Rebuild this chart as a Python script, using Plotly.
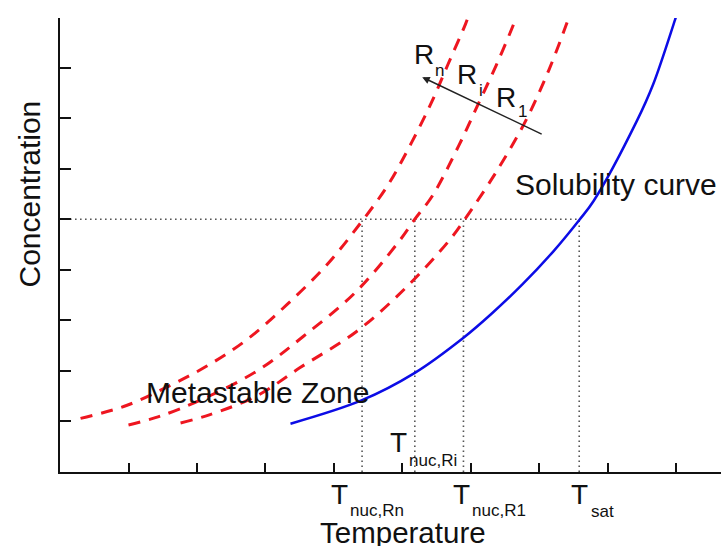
import plotly.graph_objects as go

# ---- data ----
sol_x = [3.365, 4.41, 5.18, 5.886, 6.30, 6.75, 7.20, 7.584, 7.79, 8.42, 8.66, 8.98, 9.04]
sol_y = [0.955, 1.42, 1.96, 2.65, 3.13, 3.71, 4.36, 4.99, 5.36, 6.94, 7.67, 8.95, 9.20]

rn_x = [0.30, 0.98, 1.59, 2.15, 2.73, 3.32, 3.89, 4.38, 4.79, 5.13, 5.42, 5.66, 5.92, 6.00]
rn_y = [1.06, 1.32, 1.70, 2.10, 2.62, 3.32, 4.09, 4.91, 5.68, 6.51, 7.30, 8.05, 8.86, 9.15]

ri_x = [1.00, 1.43, 2.08, 2.89, 3.55, 4.31, 4.92, 5.18, 5.44, 5.82, 6.10, 6.37, 6.62, 6.70]
ri_y = [0.93, 1.09, 1.44, 2.01, 2.68, 3.55, 4.51, 5.00, 5.47, 6.45, 7.26, 8.05, 8.85, 9.15]

r1_x = [1.76, 2.18, 2.88, 3.50, 4.33, 5.03, 5.67, 5.90, 6.38, 6.80, 7.14, 7.40, 7.47]
r1_y = [0.97, 1.13, 1.51, 2.06, 2.78, 3.62, 4.56, 4.98, 5.96, 6.95, 7.96, 8.88, 9.15]

c_level = 5.0
t_nuc_rn = 4.41
t_nuc_ri = 5.18
t_nuc_r1 = 5.89
t_sat = 7.58

x_ticks = [1, 2, 3, 4, 5, 6, 7, 8, 9]
y_ticks = [1, 2, 3, 4, 5, 6, 7, 8]

Y_MAX = 8.98
RED = "#ee1620"
BLUE = "#0c0ce6"
DOT = "#555555"
FONT = "Arial, Liberation Sans, sans-serif"

fig = go.Figure()

# dotted guide lines
fig.add_trace(go.Scatter(x=[0, t_sat], y=[c_level, c_level], mode="lines",
                         line=dict(color=DOT, width=1.6, dash="1.6px,3.4px"), hoverinfo="skip"))
for t in [t_nuc_rn, t_nuc_ri, t_nuc_r1, t_sat]:
    fig.add_trace(go.Scatter(x=[t, t], y=[0, c_level], mode="lines",
                             line=dict(color=DOT, width=1.6, dash="1.6px,3.4px"), hoverinfo="skip"))

# metastable limits (dashed red)
for xs, ys in [(rn_x, rn_y), (ri_x, ri_y), (r1_x, r1_y)]:
    fig.add_trace(go.Scatter(x=xs, y=ys, mode="lines", line_shape="spline",
                             line=dict(color=RED, width=3, dash="12px,9px"), hoverinfo="skip"))

# solubility curve
fig.add_trace(go.Scatter(x=sol_x, y=sol_y, mode="lines", line_shape="spline",
                         line=dict(color=BLUE, width=2.5), hoverinfo="skip"))

ann = []
def txt(s, x, y, size, xanchor="center", yanchor="middle", yref="y", **kw):
    if yref == "paper":
        y = y / Y_MAX
    d = dict(text=s, x=x, y=y, xref="x", yref=yref, showarrow=False,
             xanchor=xanchor, yanchor=yanchor,
             font=dict(family=FONT, size=size, color="#111111"))
    d.update(kw)
    ann.append(d)

# temperature labels (below the axis -> paper coordinates)
txt("T", 4.083, -0.449, 28, yref="paper")
txt("nuc,Rn", 4.21, -0.761, 17, xanchor="left", yref="paper")
txt("T", 4.942, 0.589, 28)
txt("nuc,Ri", 5.06, 0.227, 17, xanchor="left")
txt("T", 5.858, -0.449, 28, yref="paper")
txt("nuc,R1", 5.99, -0.761, 17, xanchor="left", yref="paper")
txt("T", 7.587, -0.449, 28, yref="paper")
txt("sat", 7.72, -0.785, 17, xanchor="left", yref="paper")

# rate labels
txt("R", 5.311, 8.252, 28)
txt("n", 5.535, 7.94, 17)
txt("R", 5.945, 7.857, 28)
txt("i", 6.139, 7.54, 17)
txt("R", 6.517, 7.412, 28)
txt("1", 6.745, 7.14, 17)

txt("Solubility curve", 6.62, 5.68, 30, xanchor="left")
txt("Metastable Zone", 1.23, 1.58, 30, xanchor="left")
txt("Temperature", 5.007, -1.20, 29.5, yref="paper")
ann.append(dict(text="Concentration", xref="paper", yref="y", x=-0.046, y=5.50,
                textangle=-90, showarrow=False, xanchor="center", yanchor="middle",
                font=dict(family=FONT, size=30, color="#111111")))

# direction arrow
ann.append(dict(text="", x=5.288, y=7.81, ax=7.054, ay=6.67, xref="x", yref="y",
                axref="x", ayref="y", showarrow=True, arrowhead=2, arrowsize=1,
                arrowwidth=1.5, arrowcolor="#222222", standoff=0))

fig.update_layout(
    width=721, height=546,
    margin=dict(l=60, r=0, t=18, b=74),
    paper_bgcolor="white", plot_bgcolor="white",
    showlegend=False,
    font=dict(family=FONT, color="#111111"),
    annotations=ann,
)
fig.update_xaxes(range=[0, 9.65], showgrid=False, zeroline=False, showline=True,
                 linecolor="#111111", linewidth=2, tickvals=x_ticks, ticks="inside",
                 ticklen=9, tickwidth=2, tickcolor="#111111", showticklabels=False)
fig.update_yaxes(range=[0, Y_MAX], showgrid=False, zeroline=False, showline=True,
                 linecolor="#111111", linewidth=2, tickvals=y_ticks, ticks="inside",
                 ticklen=11, tickwidth=2, tickcolor="#111111", showticklabels=False)

fig.write_html("out.html")
